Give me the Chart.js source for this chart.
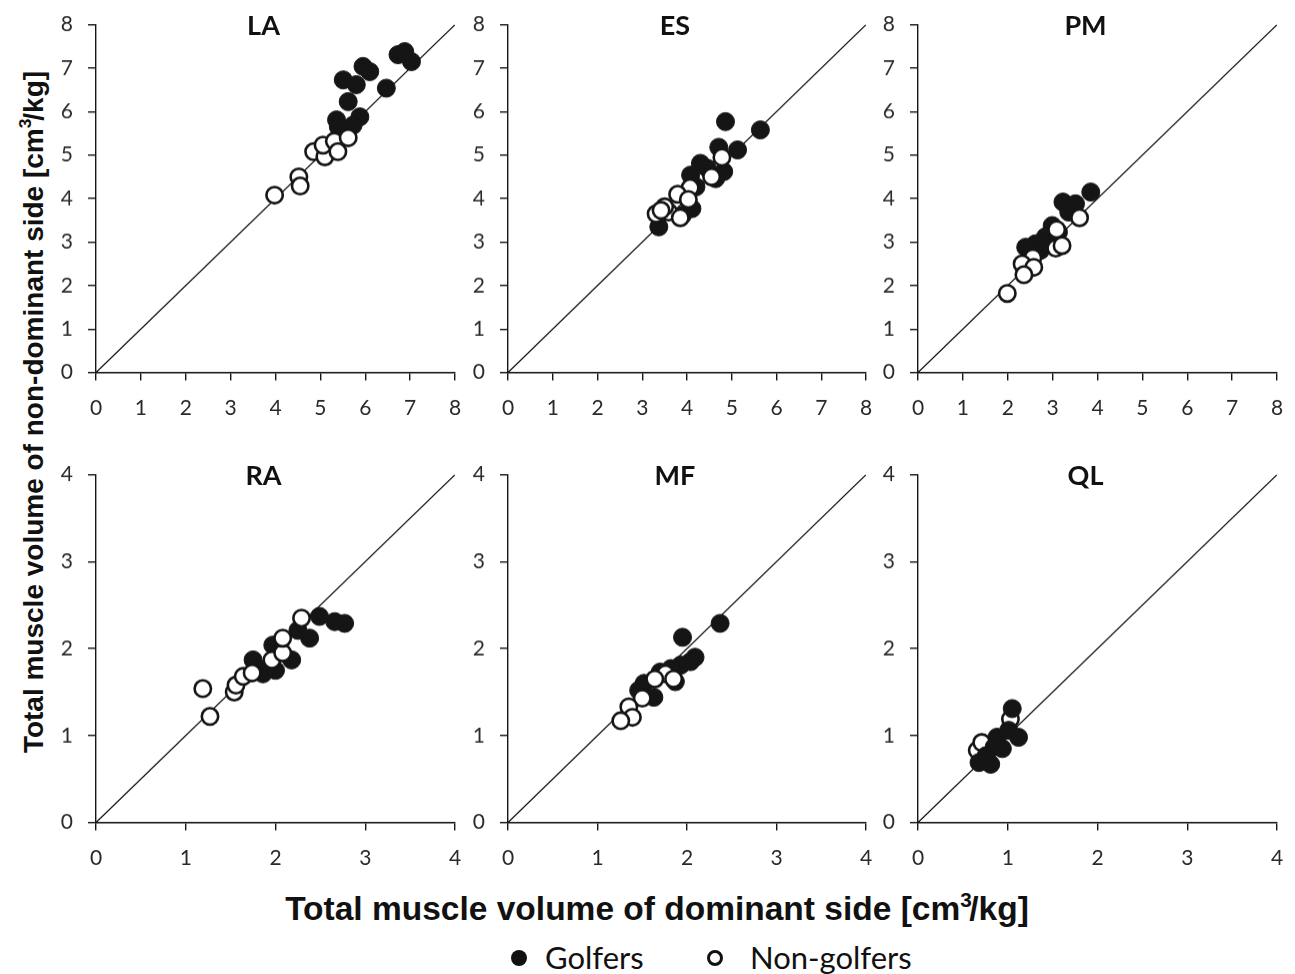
<!DOCTYPE html>
<html>
<head>
<meta charset="utf-8">
<script src="https://cdn.jsdelivr.net/npm/chart.js@4.4.0/dist/chart.umd.min.js"></script>
<style>
    body {
        margin: 0;
        background: #fff;
        width: 1295px;
        height: 974px;
        position: relative;
        overflow: hidden;
        font-family: Lato, sans-serif;
        color: #111;
    }
    .panel { position: absolute; }
    .ptitle {
        position: absolute;
        transform: translate(-50%, -50%);
        font-weight: bold;
        font-size: 27px;
        line-height: 1;
    }
    .axis-title {
        position: absolute;
        font-family: 'Liberation Sans', Arial, sans-serif;
        font-weight: bold;
        white-space: nowrap;
        line-height: 1;
    }
    .axis-title sup { font-size: 0.62em; margin-right: -0.12em; position: relative; top: -0.05em; }
    .ytitle { left: 33px; top: 412px; font-size: 28px; transform: translate(-50%, -50%) rotate(-90deg); }
    .xtitle { left: 657px; top: 908px; font-size: 33.5px; transform: translate(-50%, -50%); }
    .legend {
        position: absolute;
        top: 958px;
        left: 0;
        width: 1295px;
        font-size: 31px;
        line-height: 1;
    }
    .legend .item { position: absolute; top: -16px; white-space: nowrap; }
    .legend .dot {
        position: absolute;
        width: 16px;
        height: 16px;
        border-radius: 50%;
        box-sizing: border-box;
    }
</style>
</head>
<body>

<div class="axis-title ytitle">Total muscle volume of non-dominant side [cm<sup>3</sup>/kg]</div>
<div class="axis-title xtitle">Total muscle volume of dominant side [cm<sup>3</sup>/kg]</div>
<div class="legend">
    <span class="dot" style="left:511px; top:-8px; background:#111;"></span>
    <span class="item" style="left:545px;">Golfers</span>
    <span class="dot" style="left:707px; top:-8px; border:3px solid #111; background:#fff;"></span>
    <span class="item" style="left:750px;">Non-golfers</span>
</div>

<script>
// 数据：[优势侧, 非优势侧]
const laGolfers = [[6.73, 7.31], [6.88, 7.38], [7.03, 7.15], [5.95, 7.04], [6.1, 6.92], [5.51, 6.73], [5.8, 6.62], [6.47, 6.54], [5.62, 6.23], [5.88, 5.88], [5.36, 5.81], [5.73, 5.69], [5.4, 5.65]];
const laNonGolfers = [[3.98, 4.08], [4.52, 4.5], [4.55, 4.29], [4.85, 5.08], [5.1, 4.96], [5.06, 5.23], [5.31, 5.32], [5.39, 5.08], [5.62, 5.4]];

const esGolfers = [[4.86, 5.77], [5.64, 5.58], [5.13, 5.12], [4.71, 5.18], [4.3, 4.81], [4.08, 4.54], [4.82, 4.62], [4.64, 4.46], [4.11, 3.77], [3.37, 3.35], [4.2, 4.27], [3.9, 3.62], [4.45, 4.7]];
const esNonGolfers = [[4.78, 4.95], [4.55, 4.5], [4.07, 4.25], [3.79, 4.1], [4.03, 3.98], [3.59, 3.69], [3.31, 3.65], [3.5, 3.81], [3.85, 3.56], [3.42, 3.73]];

const pmGolfers = [[3.85, 4.15], [3.23, 3.92], [3.51, 3.88], [3.36, 3.69], [2.99, 3.38], [3.13, 3.23], [2.84, 3.12], [2.62, 2.96], [2.4, 2.88], [2.73, 2.81], [2.51, 2.77]];
const pmNonGolfers = [[3.6, 3.56], [3.09, 3.29], [3.07, 2.86], [3.21, 2.92], [2.56, 2.64], [2.32, 2.5], [2.58, 2.42], [2.36, 2.25], [1.99, 1.82]];

const raGolfers = [[2.77, 2.29], [2.66, 2.31], [2.49, 2.37], [2.38, 2.12], [2.18, 1.87], [1.97, 2.04], [1.75, 1.87], [1.86, 1.71], [2.0, 1.75], [2.25, 2.21], [1.79, 1.77]];
const raNonGolfers = [[1.19, 1.54], [1.27, 1.22], [1.54, 1.5], [1.56, 1.58], [1.64, 1.68], [1.74, 1.72], [1.96, 1.87], [2.08, 1.95], [2.08, 2.12], [2.29, 2.35]];

const mfGolfers = [[2.37, 2.29], [1.95, 2.13], [2.09, 1.9], [2.04, 1.85], [1.93, 1.81], [1.82, 1.77], [1.7, 1.73], [1.52, 1.6], [1.63, 1.44], [1.87, 1.62], [1.46, 1.52]];
const mfNonGolfers = [[1.76, 1.71], [1.85, 1.65], [1.64, 1.65], [1.5, 1.43], [1.35, 1.33], [1.39, 1.21], [1.26, 1.17]];

const qlGolfers = [[1.05, 1.31], [1.12, 0.98], [0.88, 0.98], [1.01, 1.06], [0.94, 0.85], [0.85, 0.87], [0.68, 0.69], [0.81, 0.67], [0.76, 0.77]];
const qlNonGolfers = [[1.03, 1.19], [0.66, 0.83], [0.71, 0.92]];

const topTicks = [0, 1, 2, 3, 4, 5, 6, 7, 8];
const bottomTicks = [0, 1, 2, 3, 4];

// 面板布局（绘图区在页面中的位置）
const panels = [
    { name: 'LA', x0: 96, x1: 455, yTop: 25, yBot: 372, ticks: topTicks, golf: laGolfers, non: laNonGolfers },
    { name: 'ES', x0: 508, x1: 866, yTop: 25, yBot: 372, ticks: topTicks, golf: esGolfers, non: esNonGolfers },
    { name: 'PM', x0: 918, x1: 1277, yTop: 25, yBot: 372, ticks: topTicks, golf: pmGolfers, non: pmNonGolfers },
    { name: 'RA', x0: 96, x1: 455, yTop: 475, yBot: 822, ticks: bottomTicks, golf: raGolfers, non: raNonGolfers },
    { name: 'MF', x0: 508, x1: 866, yTop: 475, yBot: 822, ticks: bottomTicks, golf: mfGolfers, non: mfNonGolfers },
    { name: 'QL', x0: 918, x1: 1277, yTop: 475, yBot: 822, ticks: bottomTicks, golf: qlGolfers, non: qlNonGolfers, golfOnTop: true }
];

const AXIS_W = 60;
const AXIS_H = 55;
const PAD = 15;
const INK = '#151515';

Chart.defaults.font.family = 'Lato, sans-serif';
Chart.defaults.color = '#2a2a2a';

function toPoints(arr) {
    return arr.map(p => ({ x: p[0], y: p[1] }));
}

function axisOptions(ticks, isY) {
    const max = ticks[ticks.length - 1];
    return {
        type: 'linear',
        min: 0,
        max: max,
        afterBuildTicks: scale => { scale.ticks = ticks.map(v => ({ value: v })); },
        afterFit: scale => {
            if (isY) scale.width = AXIS_W; else scale.height = AXIS_H;
        },
        grid: {
            display: true,
            drawOnChartArea: false,
            drawTicks: true,
            tickLength: 8,
            color: INK,
            lineWidth: 1.4
        },
        border: { display: true, color: INK, width: 1.4 },
        ticks: {
            autoSkip: false,
            maxRotation: 0,
            padding: isY ? 15 : 15,
            font: { size: 21 },
            color: '#2a2a2a'
        }
    };
}

function createPanel(p) {
    const max = p.ticks[p.ticks.length - 1];
    const plotW = p.x1 - p.x0;
    const plotH = p.yBot - p.yTop;
    const wrap = document.createElement('div');
    wrap.className = 'panel';
    let w = plotW + AXIS_W + PAD;
    let h = plotH + PAD + AXIS_H;
    wrap.style.width = w + 'px';
    wrap.style.height = h + 'px';
    const canvas = document.createElement('canvas');
    wrap.appendChild(canvas);
    document.body.appendChild(wrap);

    const title = document.createElement('div');
    title.className = 'ptitle';
    title.textContent = p.name;
    title.style.left = (p.x0 + plotW / 2 - 12) + 'px';
    title.style.top = (p.yTop - 1) + 'px';
    document.body.appendChild(title);

    const chart = new Chart(canvas, {
        type: 'scatter',
        data: {
            datasets: [{
                label: 'Golfers',
                data: toPoints(p.golf),
                backgroundColor: INK,
                borderColor: INK,
                pointRadius: 9,
                borderWidth: 1,
                order: p.golfOnTop ? 1 : 2
            }, {
                label: 'Non-golfers',
                data: toPoints(p.non),
                backgroundColor: '#fff',
                borderColor: INK,
                pointRadius: 8.2,
                borderWidth: 2.6,
                order: p.golfOnTop ? 2 : 1
            }, {
                label: 'identity',
                data: [{ x: 0, y: 0 }, { x: max, y: max }],
                showLine: true,
                borderColor: '#000',
                borderWidth: 1.2,
                pointRadius: 0,
                order: 3
            }]
        },
        options: {
            responsive: true,
            maintainAspectRatio: false,
            animation: false,
            events: [],
            layout: { padding: { left: 0, right: PAD, top: PAD, bottom: 0 } },
            plugins: {
                legend: { display: false },
                tooltip: { enabled: false }
            },
            scales: {
                x: axisOptions(p.ticks, false),
                y: axisOptions(p.ticks, true)
            }
        }
    });

    // 校正绘图区大小，使其与原图对齐
    const a = chart.chartArea;
    w += plotW - (a.right - a.left);
    h += plotH - (a.bottom - a.top);
    wrap.style.width = w + 'px';
    wrap.style.height = h + 'px';
    chart.resize(w, h);
    const b = chart.chartArea;
    wrap.style.left = (p.x0 - b.left) + 'px';
    wrap.style.top = (p.yTop - b.top) + 'px';
}

panels.forEach(createPanel);
</script>
</body>
</html>
